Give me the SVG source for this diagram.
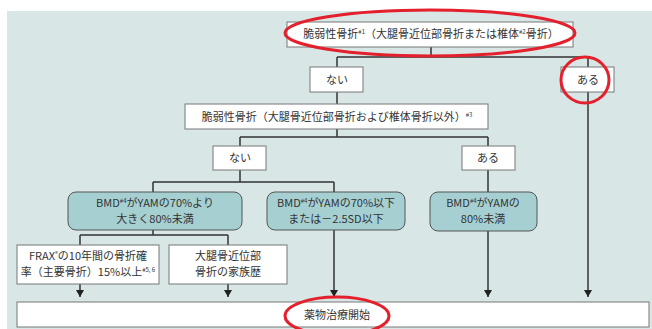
<svg xmlns="http://www.w3.org/2000/svg" width="652" height="329" viewBox="0 0 652 329">
<style>
text{font-family:"Noto Sans CJK JP","Noto Sans",sans-serif;font-size:11px;fill:#333;text-anchor:middle}
.sup{font-size:6px}
.box{fill:#fff;stroke:#777;stroke-width:1}
.teal{fill:#a6cfd2;stroke:#555;stroke-width:1}
.ln{fill:none;stroke:#333;stroke-width:1.5}
.arr{fill:none;stroke:#333;stroke-width:1.5;marker-end:url(#ah)}
.red{fill:none;stroke:#e3202c;stroke-width:3}
</style>
<defs>
<marker id="ah" viewBox="0 -4 7 8" refX="7" refY="0" markerWidth="7" markerHeight="8" markerUnits="userSpaceOnUse" orient="auto">
<path d="M0,-4 L7,0 L0,4 Z" fill="#222"/>
</marker>
</defs>
<rect x="0" y="0" width="652" height="329" fill="#fff"/>
<rect x="7" y="11" width="645" height="318" fill="#d8e6e6"/>
<g id="connectors">
<path class="ln" d="M431,47 V57 M337,57 H588 M337,57 V67 M588,57 V67"/>
<path class="ln" d="M337,92 V104"/>
<path class="ln" d="M337,129 V137 M240,137 H488 M240,137 V146 M488,137 V146"/>
<path class="ln" d="M240,170 V182 M153,182 H334 M153,182 V192 M334,182 V192"/>
<path class="ln" d="M153,230 V235 M80,235 H228 M80,235 V245 M228,235 V245"/>
<path class="ln" d="M488,170 V192"/>
<path class="arr" d="M80,284 V297"/>
<path class="arr" d="M228,284 V297"/>
<path class="arr" d="M334,230 V297"/>
<path class="arr" d="M488,231 V297"/>
<path class="arr" d="M588,92 V297"/>
</g>
<g id="n_top">
<rect class="box" x="287" y="22" width="286" height="25"/>
<text x="431" y="38">脆弱性骨折<tspan class="sup" dy="-4">#1</tspan><tspan dy="4">（大腿骨近位部骨折または椎体</tspan><tspan class="sup" dy="-4">#2</tspan><tspan dy="4">骨折）</tspan></text>
</g>
<g id="n_nai1">
<rect class="box" x="310" y="67" width="53" height="25"/>
<text x="337" y="84">ない</text>
</g>
<g id="n_aru1">
<rect class="box" x="561" y="67" width="53" height="25"/>
<text x="588" y="84">ある</text>
</g>
<g id="n_mid">
<rect class="box" x="185" y="104" width="303" height="25"/>
<text x="337" y="121">脆弱性骨折（大腿骨近位部骨折および椎体骨折以外）<tspan class="sup" dy="-4">#3</tspan></text>
</g>
<g id="n_nai2">
<rect class="box" x="213" y="146" width="53" height="24"/>
<text x="240" y="162">ない</text>
</g>
<g id="n_aru2">
<rect class="box" x="462" y="146" width="53" height="24"/>
<text x="488" y="162">ある</text>
</g>
<g id="n_bmd1">
<rect class="teal" x="68" y="192" width="174" height="38" rx="8"/>
<text x="155" y="207">BMD<tspan class="sup" dy="-4">#4</tspan><tspan dy="4">がYAMの70%より</tspan></text>
<text x="155" y="223">大きく80%未満</text>
</g>
<g id="n_bmd2">
<rect class="teal" x="267" y="192" width="138" height="38" rx="8"/>
<text x="336" y="207">BMD<tspan class="sup" dy="-4">#4</tspan><tspan dy="4">がYAMの70%以下</tspan></text>
<text x="336" y="223">または－2.5SD以下</text>
</g>
<g id="n_bmd3">
<rect class="teal" x="430" y="192" width="107" height="39" rx="8"/>
<text x="483" y="207">BMD<tspan class="sup" dy="-4">#4</tspan><tspan dy="4">がYAMの</tspan></text>
<text x="483" y="223">80%未満</text>
</g>
<g id="n_frax">
<rect class="box" x="17" y="245" width="142" height="39"/>
<text x="88" y="260">FRAX<tspan class="sup" dy="-4">®</tspan><tspan dy="4">の10年間の骨折確</tspan></text>
<text x="88" y="276">率（主要骨折）15%以上<tspan class="sup" dy="-4">#5, 6</tspan></text>
</g>
<g id="n_family">
<rect class="box" x="169" y="245" width="118" height="39"/>
<text x="228" y="260">大腿骨近位部</text>
<text x="228" y="276">骨折の家族歴</text>
</g>
<g id="n_treat">
<rect class="box" x="17" y="302" width="632" height="25"/>
<text x="337" y="319">薬物治療開始</text>
</g>
<g id="highlights">
<ellipse class="red" cx="430" cy="33" rx="145" ry="23"/>
<ellipse class="red" cx="585" cy="80" rx="24" ry="23"/>
<ellipse class="red" cx="337" cy="316" rx="52" ry="19"/>
</g>
</svg>
